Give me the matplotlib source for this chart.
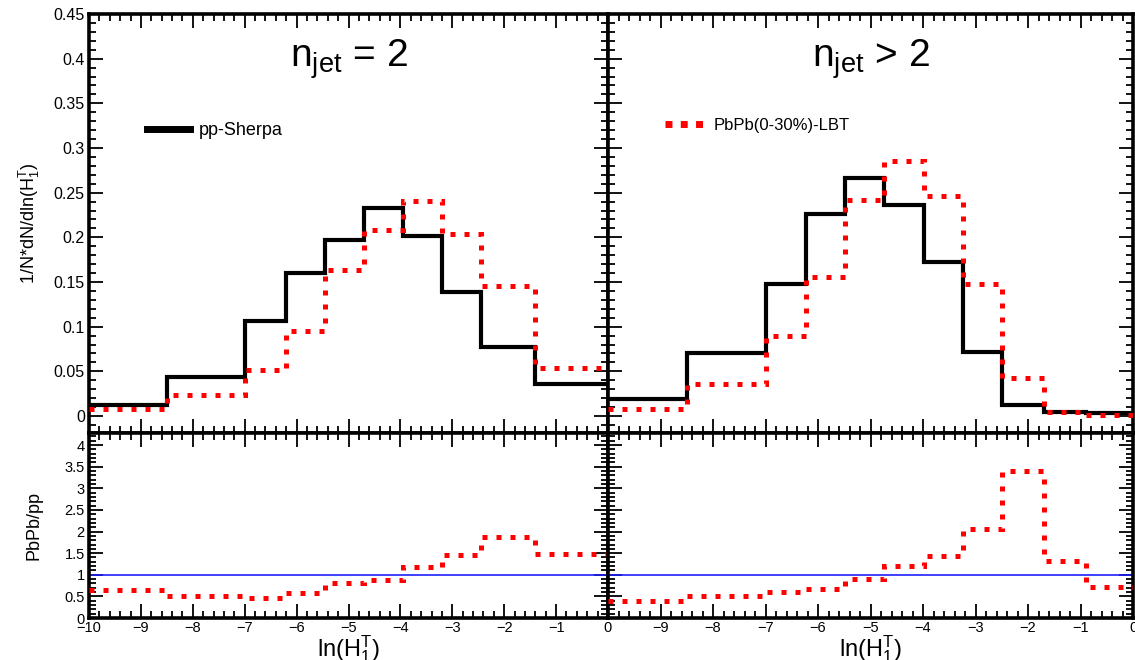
import matplotlib
matplotlib.use("Agg")
import matplotlib.pyplot as plt
from matplotlib.lines import Line2D
from matplotlib.ticker import MultipleLocator, FuncFormatter, NullFormatter

plt.rcParams["font.family"] = ["Liberation Sans", "DejaVu Sans"]
plt.rcParams["mathtext.default"] = "regular"
plt.rcParams["axes.unicode_minus"] = True

# ─── Data ────────────────────────────────────────────────────────────────────
edges_2 = [-10, -8.5, -7, -6.2, -5.45, -4.7, -3.95, -3.2, -2.45, -1.4, 0]
pp_2 = [0.012, 0.044, 0.106, 0.160, 0.197, 0.233, 0.201, 0.139, 0.077, 0.036]
pbpb_2 = [0.008, 0.023, 0.052, 0.095, 0.163, 0.208, 0.241, 0.204, 0.145, 0.054]
ratio_2 = [0.64, 0.51, 0.47, 0.58, 0.82, 0.89, 1.19, 1.46, 1.88, 1.49]

edges_3 = [-10, -8.5, -7, -6.23, -5.49, -4.74, -3.98, -3.23, -2.49, -1.7, -0.9, 0]
pp_3 = [0.019, 0.070, 0.148, 0.226, 0.266, 0.236, 0.172, 0.072, 0.0126, 0.004, 0.003]
pbpb_3 = [0.008, 0.036, 0.090, 0.156, 0.242, 0.285, 0.246, 0.148, 0.043, 0.0045, 0.0015]
ratio_3 = [0.40, 0.50, 0.60, 0.68, 0.91, 1.20, 1.43, 2.07, 3.41, 1.33, 0.72]

titles = [r"$n_{jet}$ = 2", r"$n_{jet}$ > 2"]

RED = "#ff0000"
DOTS = (0, (1.0, 1.8))

num_fmt = FuncFormatter(lambda v, _: f"{v:g}".replace("-", "\u2212"))


def style_axis(ax, labelsize):
    ax.tick_params(which="both", direction="in", top=True, right=True,
                   width=1.3, labelsize=labelsize, pad=3)
    ax.tick_params(which="major", length=10)
    ax.tick_params(which="minor", length=5)
    for sp in ax.spines.values():
        sp.set_linewidth(2.6)


fig = plt.figure(figsize=(11.35, 6.6), dpi=100)

W, H = 1135, 660
pos_x = [(89, 519), (608, 525)]
top_y = (14, 433)
bot_y = (433, 618)

panels = [(edges_2, pp_2, pbpb_2, ratio_2), (edges_3, pp_3, pbpb_3, ratio_3)]

for i, (edges, pp, pbpb, ratio) in enumerate(panels):
    x0, w = pos_x[i]
    ax = fig.add_axes([x0 / W, 1 - top_y[1] / H, w / W, (top_y[1] - top_y[0]) / H])
    axr = fig.add_axes([x0 / W, 1 - bot_y[1] / H, w / W, (bot_y[1] - bot_y[0]) / H])

    # upper: normalised distributions
    ax.stairs(pp, edges, baseline=None, color="black", lw=3.0, zorder=2)
    ax.stairs(pbpb, edges, baseline=None, color=RED, lw=3.6,
              linestyle=DOTS, zorder=3)
    ax.set_xlim(-10, 0)
    ax.set_ylim(-0.019, 0.45)
    ax.yaxis.set_major_locator(MultipleLocator(0.05))
    ax.yaxis.set_minor_locator(MultipleLocator(0.01))
    ax.xaxis.set_major_locator(MultipleLocator(1))
    ax.xaxis.set_minor_locator(MultipleLocator(0.2))
    ax.xaxis.set_major_formatter(NullFormatter())
    style_axis(ax, 11.5)
    ax.text(0.5, 0.893, titles[i], transform=ax.transAxes, ha="center",
            va="center", fontsize=28)

    # lower: ratio
    axr.stairs(ratio, edges, baseline=None, color=RED, lw=3.6,
               linestyle=DOTS, zorder=3)
    axr.axhline(1, color="#1f1fff", lw=1.2, zorder=2)
    axr.set_xlim(-10, 0)
    axr.set_ylim(0, 4.28)
    axr.yaxis.set_major_locator(MultipleLocator(0.5))
    axr.yaxis.set_minor_locator(MultipleLocator(0.1))
    axr.xaxis.set_major_locator(MultipleLocator(1))
    axr.xaxis.set_minor_locator(MultipleLocator(0.2))
    style_axis(axr, 10.5)
    axr.tick_params(axis="x", pad=2)
    axr.set_xlabel(r"ln($H_1^T$)", fontsize=17)
    axr.xaxis.set_label_coords(0.5, -0.082)

    if i == 0:
        ax.yaxis.set_major_formatter(num_fmt)
        axr.yaxis.set_major_formatter(num_fmt)
        axr.xaxis.set_major_formatter(num_fmt)
        ax.set_ylabel(r"1/N*dN/dln($H_1^T$)", fontsize=13)
        ax.yaxis.set_label_coords(-0.09, 0.5)
        axr.set_ylabel("PbPb/pp", fontsize=13)
        axr.yaxis.set_label_coords(-0.09, 0.5)
        h = [Line2D([], [], color="black", lw=5)]
        ax.legend(h, ["pp-Sherpa"], loc="upper left", bbox_to_anchor=(0.08, 0.78),
                  frameon=False, fontsize=13, handlelength=2.4, handletextpad=0.5)
    else:
        ax.yaxis.set_major_formatter(NullFormatter())
        axr.yaxis.set_major_formatter(NullFormatter())
        axr.xaxis.set_major_formatter(
            FuncFormatter(lambda v, _: "" if v <= -10 else f"{v:g}".replace("-", "\u2212")))
        h = [Line2D([], [], color=RED, lw=5, linestyle=(0, (1.0, 1.2)))]
        ax.legend(h, ["PbPb(0-30%)-LBT"], loc="upper left", bbox_to_anchor=(0.08, 0.787),
                  frameon=False, fontsize=12, handlelength=2.4, handletextpad=0.5)

fig.savefig("out.png", dpi=100)
